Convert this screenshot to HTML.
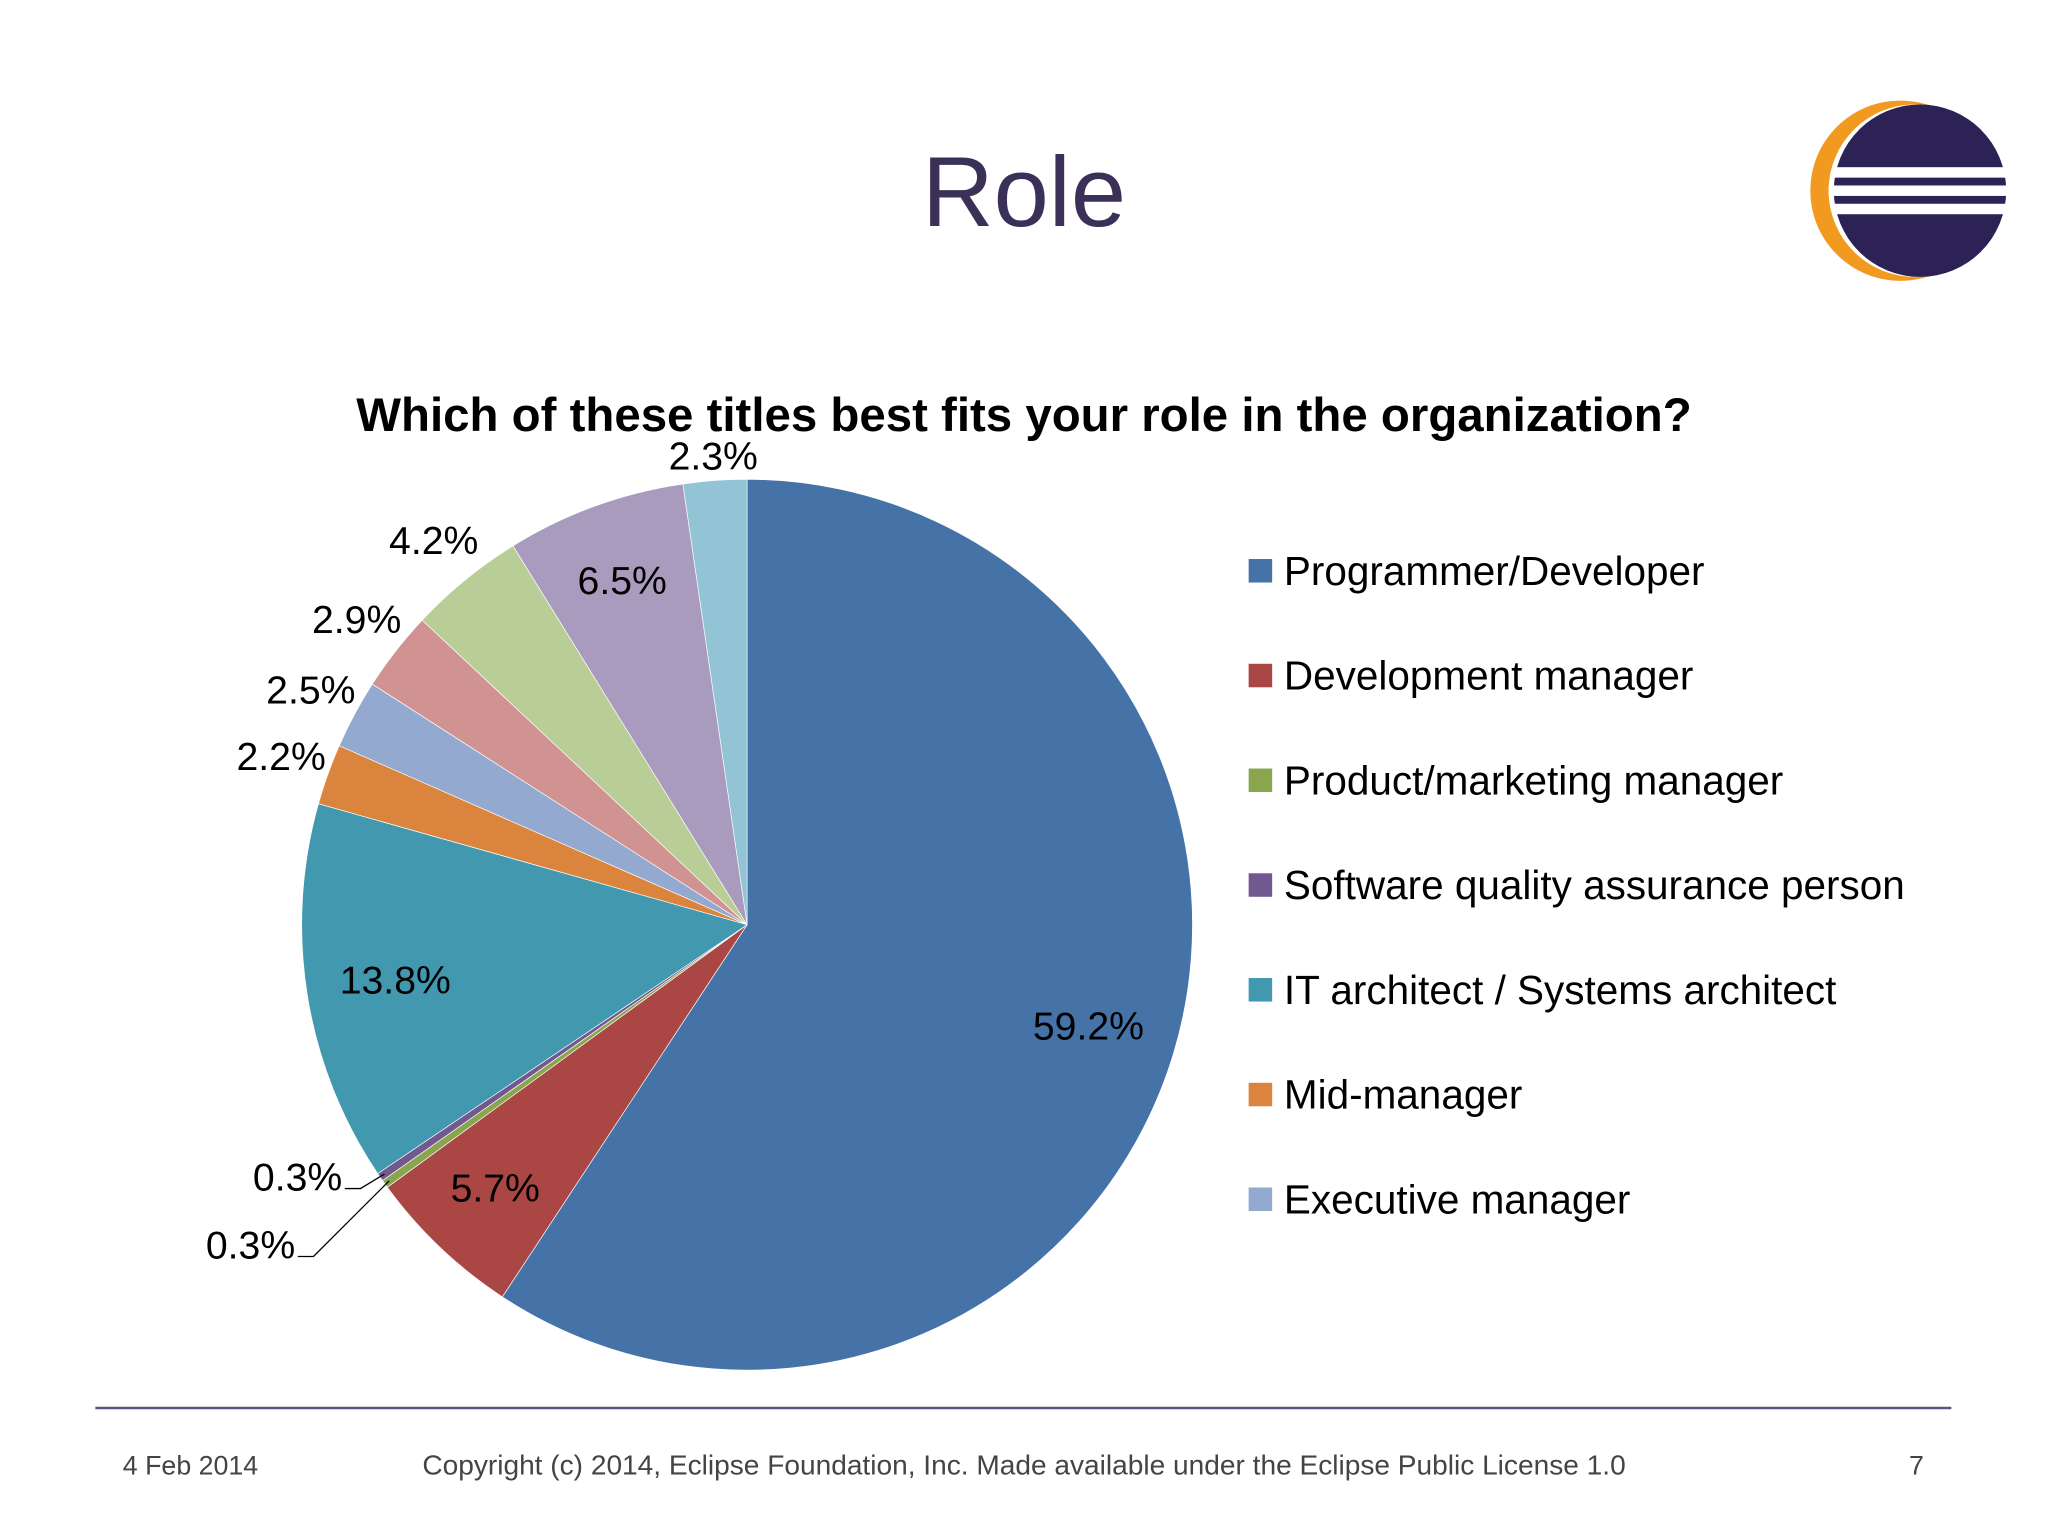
<!DOCTYPE html>
<html><head><meta charset="utf-8"><style>
html,body{margin:0;padding:0;background:#fff;}
svg{display:block;font-family:"Liberation Sans",sans-serif;}
</style></head><body>
<svg id="chart" width="2048" height="1536" viewBox="0 0 1568 1176" xmlns="http://www.w3.org/2000/svg">
<rect width="1568" height="1176" fill="#fff"/>
<text x="784" y="173" text-anchor="middle" font-size="76" fill="#3b3158">Role</text>
<g>
<circle cx="1455" cy="146" r="69" fill="#f29a1f"/>
<circle cx="1466" cy="146" r="66" fill="#fff"/>
<circle cx="1470" cy="146" r="66" fill="#2c2255"/>
<rect x="1404" y="128" width="134" height="8" fill="#fff"/>
<rect x="1400" y="142" width="140" height="8" fill="#fff"/>
<rect x="1404" y="156" width="134" height="8" fill="#fff"/>
</g>
<text x="784" y="330" text-anchor="middle" font-size="36.3" font-weight="bold" fill="#000">Which of these titles best fits your role in the organization?</text>
<g id="pie"></g>
<g id="labels"></g>
<g id="legend"></g>
<line x1="73" y1="1078" x2="1494" y2="1078" stroke="#5c5480" stroke-width="2"/>
<text x="94" y="1129" font-size="20.5" fill="#444">4 Feb 2014</text>
<text x="784" y="1129" text-anchor="middle" font-size="21.5" fill="#444">Copyright (c) 2014, Eclipse Foundation, Inc. Made available under the Eclipse Public License 1.0</text>
<text x="1473" y="1129" text-anchor="end" font-size="20.5" fill="#444">7</text>
</svg>
<script>
const categories = ["Programmer/Developer","Development manager","Product/marketing manager","Software quality assurance person","IT architect / Systems architect","Mid-manager","Executive manager","Other 1","Other 2","Other 3","Other 4"];
const values = [59.2,5.7,0.3,0.3,13.8,2.2,2.5,2.9,4.2,6.5,2.3];
const valueLabels = ["59.2%","5.7%","0.3%","0.3%","13.8%","2.2%","2.5%","2.9%","4.2%","6.5%","2.3%"];
const colors = ["#4572a7","#aa4643","#89a54e","#71588f","#4198af","#db843d","#93a9cf","#d19392","#b9cd96","#a99bbd","#92c4d6"];
const legendCount = 7;
const NS="http://www.w3.org/2000/svg";
const cx=572, cy=708, R=341;
const total=values.reduce((a,b)=>a+b,0);
function pt(frac,r){const a=frac*2*Math.PI;return [cx+r*Math.sin(a),cy-r*Math.cos(a)];}
const pie=document.getElementById('pie'), lab=document.getElementById('labels');
let cum=0;
values.forEach((v,i)=>{
  const s=cum/total, e=(cum+v)/total; cum+=v;
  const p0=pt(s,R), p1=pt(e,R), large=(e-s)>0.5?1:0;
  const path=document.createElementNS(NS,'path');
  path.setAttribute('d',`M${cx},${cy} L${p0[0]},${p0[1]} A${R},${R} 0 ${large} 1 ${p1[0]},${p1[1]} Z`);
  path.setAttribute('fill',colors[i]);
  path.setAttribute('stroke','#fff');path.setAttribute('stroke-width','0.5');
  
  
  pie.appendChild(path);
  const m=(s+e)/2, frac=v/total;
  const t=document.createElementNS(NS,'text');
  t.setAttribute('font-size','30');t.setAttribute('fill','#000');
  t.setAttribute('dominant-baseline','central');
  t.textContent=valueLabels[i];
  
  
  if(frac>0.05){
    const p=pt(m,R*(frac<0.1?0.82:0.8));t.setAttribute('x',p[0]);t.setAttribute('y',p[1]);t.setAttribute('text-anchor','middle');
  } else if(frac>0.01){
    const c=Math.abs(Math.cos(m*2*Math.PI));
    const p=pt(m,c>0.95?R+18:R+38);t.setAttribute('x',p[0]);t.setAttribute('y',p[1]);t.setAttribute('text-anchor','middle');
  } else {
    const a=pt(m,R-4);
    const ly = i===2 ? 962 : 910;
    const lx = i===2 ? 228 : 264;
    const ln=document.createElementNS(NS,'polyline');
    ln.setAttribute('points',`${a[0]},${a[1]} ${lx+12},${ly} ${lx},${ly}`);
    ln.setAttribute('fill','none');ln.setAttribute('stroke','#000');ln.setAttribute('stroke-width','1');
    
    
    lab.appendChild(ln);
    t.setAttribute('x',lx-2);t.setAttribute('y',ly-8);t.setAttribute('text-anchor','end');
  }
  lab.appendChild(t);
});
const leg=document.getElementById('legend');
for(let i=0;i<legendCount;i++){
  const y=437+i*80.2;
  const g=document.createElementNS(NS,'g');
  
  
  const r=document.createElementNS(NS,'rect');
  r.setAttribute('x',956);r.setAttribute('y',y-9);r.setAttribute('width',18);r.setAttribute('height',18);r.setAttribute('fill',colors[i]);
  
  
  const t=document.createElementNS(NS,'text');
  t.setAttribute('x',983);t.setAttribute('y',y);t.setAttribute('dominant-baseline','central');t.setAttribute('font-size','31');t.setAttribute('fill','#000');
  t.textContent=categories[i];
  
  
  g.appendChild(r);g.appendChild(t);leg.appendChild(g);
}
</script>
</body></html>
